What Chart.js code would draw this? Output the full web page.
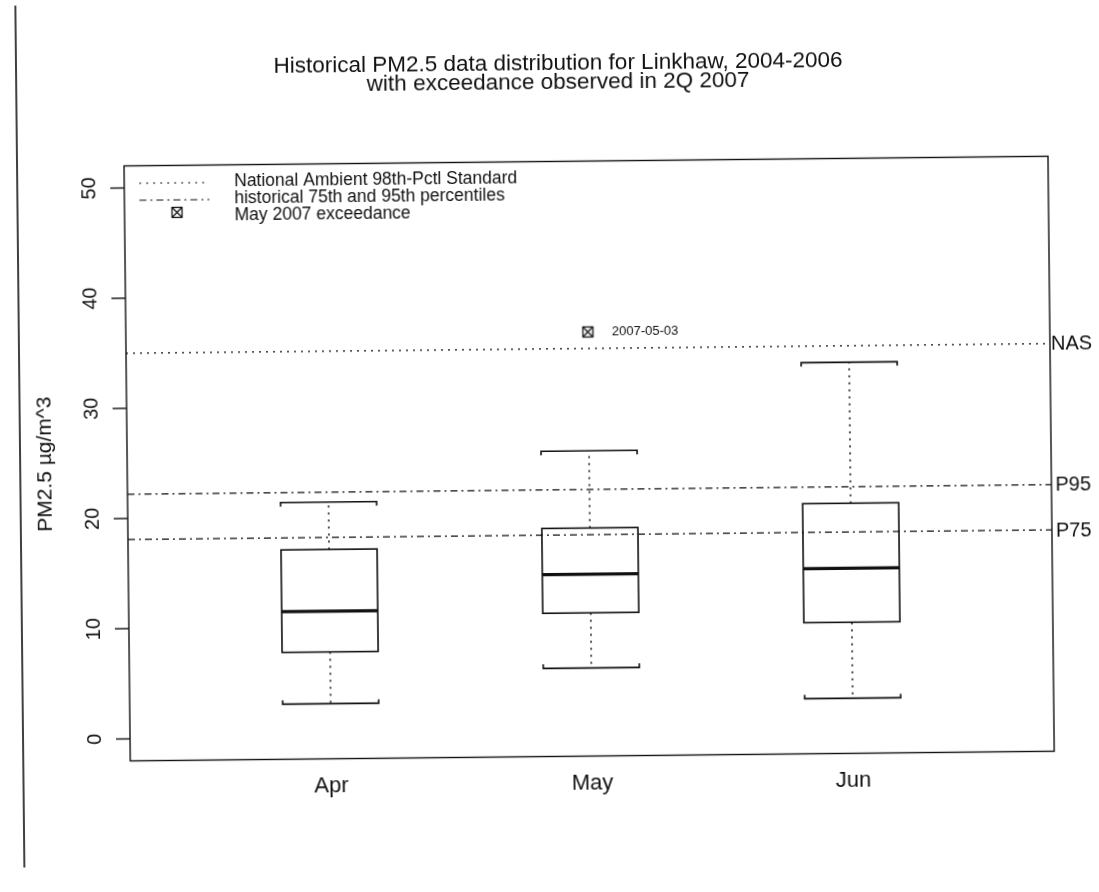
<!DOCTYPE html>
<html>
<head>
<meta charset="utf-8">
<script src="https://cdn.jsdelivr.net/npm/chart.js@4.4.1/dist/chart.umd.min.js"></script>
<style>
    body { margin: 0; background: #fff; overflow: hidden; }
    #wrap { width: 1099px; height: 892px; transform: rotate(-0.6deg); }
</style>
</head>
<body>
<div id="wrap"><canvas id="pmChart"></canvas></div>
<script>
const months = ['Apr', 'May', 'Jun'];
const whiskerLow = [3.0, 6.0, 3.0];
const quartile1 = [7.7, 11.0, 9.9];
const medians = [11.4, 14.5, 14.8];
const quartile3 = [17.0, 18.7, 20.7];
const whiskerHigh = [21.3, 25.7, 33.5];
const nasStandard = 35;
const hist95 = 22.2;
const hist75 = 18.1;
const exceedanceDates = ['2007-05-03'];
const exceedanceX = [2.0];
const exceedanceValues = [36.5];
const yTicks = [0, 10, 20, 30, 40, 50];

const FONT = "'Liberation Sans', Arial, sans-serif";

function makeBoxX() {
    const c = document.createElement('canvas');
    c.width = 13; c.height = 13;
    const g = c.getContext('2d');
    g.strokeStyle = '#111';
    g.lineWidth = 1.3;
    g.strokeRect(1.5, 1.5, 10, 10);
    g.beginPath();
    g.moveTo(1.5, 1.5); g.lineTo(11.5, 11.5);
    g.moveTo(11.5, 1.5); g.lineTo(1.5, 11.5);
    g.stroke();
    return c;
}
const boxX = makeBoxX();

function hline(ctx, x1, x2, y, dash, width) {
    ctx.save();
    ctx.setLineDash(dash);
    ctx.lineWidth = width;
    ctx.beginPath();
    ctx.moveTo(x1, y);
    ctx.lineTo(x2, y);
    ctx.stroke();
    ctx.restore();
}

const boxplotPlugin = {
    id: 'boxplotPlugin',
    beforeDatasetsDraw(chart) {
        const { ctx, chartArea: a, scales: { x, y } } = chart;
        ctx.save();
        ctx.strokeStyle = '#111';
        ctx.fillStyle = '#111';

        // scanned page edge
        ctx.lineWidth = 1.6;
        ctx.beginPath();
        ctx.moveTo(20, 0);
        ctx.lineTo(20, 862);
        ctx.stroke();

        // title
        ctx.font = '22.5px ' + FONT;
        ctx.textAlign = 'center';
        ctx.textBaseline = 'middle';
        ctx.fillText('Historical PM2.5 data distribution for Linkhaw, 2004-2006', 562, 64);
        ctx.fillText('with exceedance observed in 2Q 2007', 562, 83);

        // reference lines
        hline(ctx, a.left, a.right, y.getPixelForValue(nasStandard), [2, 5], 1.3);
        hline(ctx, a.left, a.right, y.getPixelForValue(hist95), [7, 4, 2, 4], 1.2);
        hline(ctx, a.left, a.right, y.getPixelForValue(hist75), [7, 4, 2, 4], 1.2);
        ctx.font = '20px ' + FONT;
        ctx.textAlign = 'left';
        ctx.fillText('NAS', a.right + 1, y.getPixelForValue(nasStandard) + 1);
        ctx.fillText('P95', a.right + 4, y.getPixelForValue(hist95) + 1);
        ctx.fillText('P75', a.right + 4, y.getPixelForValue(hist75) + 1);

        // boxes
        const half = 0.184;
        months.forEach((m, i) => {
            const cx = x.getPixelForValue(i + 1);
            const xl = x.getPixelForValue(i + 1 - half);
            const xr = x.getPixelForValue(i + 1 + half);
            const yLo = y.getPixelForValue(whiskerLow[i]);
            const yQ1 = y.getPixelForValue(quartile1[i]);
            const yMed = y.getPixelForValue(medians[i]);
            const yQ3 = y.getPixelForValue(quartile3[i]);
            const yHi = y.getPixelForValue(whiskerHigh[i]);

            ctx.save();
            ctx.lineWidth = 1.5;
            ctx.setLineDash([2, 5]);
            ctx.beginPath();
            ctx.moveTo(cx, yQ3); ctx.lineTo(cx, yHi);
            ctx.moveTo(cx, yQ1); ctx.lineTo(cx, yLo);
            ctx.stroke();
            ctx.restore();

            ctx.lineWidth = 1.6;
            ctx.beginPath();
            ctx.moveTo(xl, yHi + 4); ctx.lineTo(xl, yHi); ctx.lineTo(xr, yHi); ctx.lineTo(xr, yHi + 4);
            ctx.moveTo(xl, yLo - 4); ctx.lineTo(xl, yLo); ctx.lineTo(xr, yLo); ctx.lineTo(xr, yLo - 4);
            ctx.stroke();

            ctx.strokeRect(xl, yQ3, xr - xl, yQ1 - yQ3);
            hline(ctx, xl, xr, yMed, [], 3.2);

            ctx.font = '22px ' + FONT;
            ctx.textAlign = 'center';
            ctx.fillText(m, cx, a.bottom + 27);
        });

        // plot frame
        ctx.lineWidth = 1.4;
        ctx.strokeRect(a.left, a.top, a.right - a.left, a.bottom - a.top);

        // y axis ticks and rotated labels
        ctx.font = '20px ' + FONT;
        yTicks.forEach((t) => {
            const py = y.getPixelForValue(t);
            hline(ctx, a.left - 14, a.left, py, [], 1.4);
            ctx.save();
            ctx.translate(a.left - 35, py);
            ctx.rotate(-Math.PI / 2);
            ctx.textAlign = 'center';
            ctx.fillText(String(t), 0, 0);
            ctx.restore();
        });
        ctx.save();
        ctx.translate(45, (a.top + a.bottom) / 2);
        ctx.rotate(-Math.PI / 2);
        ctx.textAlign = 'center';
        ctx.font = '21px ' + FONT;
        ctx.fillText('PM2.5 \u00b5g/m^3', 0, 0);
        ctx.restore();

        // legend
        ctx.font = '17.5px ' + FONT;
        ctx.textAlign = 'left';
        const lx = a.left + 15, tx = a.left + 110;
        hline(ctx, lx, lx + 70, 179, [2, 5], 1.2);
        hline(ctx, lx, lx + 70, 196, [7, 4, 2, 4], 1.2);
        ctx.drawImage(boxX, lx + 31, 202);
        ctx.fillText('National Ambient 98th-Pctl Standard', tx, 178);
        ctx.fillText('historical 75th and 95th percentiles', tx, 195);
        ctx.fillText('May 2007 exceedance', tx, 212);

        // exceedance label
        ctx.font = '13px ' + FONT;
        exceedanceDates.forEach((d, i) => {
            ctx.fillText(d, x.getPixelForValue(exceedanceX[i]) + 24, y.getPixelForValue(exceedanceValues[i]));
        });
        ctx.restore();
    }
};

const ctx = document.getElementById('pmChart').getContext('2d');
const pmChart = new Chart(ctx, {
    type: 'scatter',
    data: {
        datasets: [{
            label: 'May 2007 exceedance',
            data: exceedanceValues.map((v, i) => ({ x: exceedanceX[i], y: v })),
            pointStyle: boxX,
            pointRadius: 6
        }]
    },
    options: {
        responsive: true,
        maintainAspectRatio: false,
        animation: false,
        layout: { padding: { left: 127, right: 48, top: 161.5, bottom: 135.5 } },
        plugins: { legend: { display: false }, tooltip: { enabled: false } },
        scales: {
            x: { type: 'linear', min: 0.23, max: 3.77, display: false },
            y: { type: 'linear', min: -2, max: 52, display: false }
        }
    },
    plugins: [boxplotPlugin]
});
</script>
</body>
</html>
